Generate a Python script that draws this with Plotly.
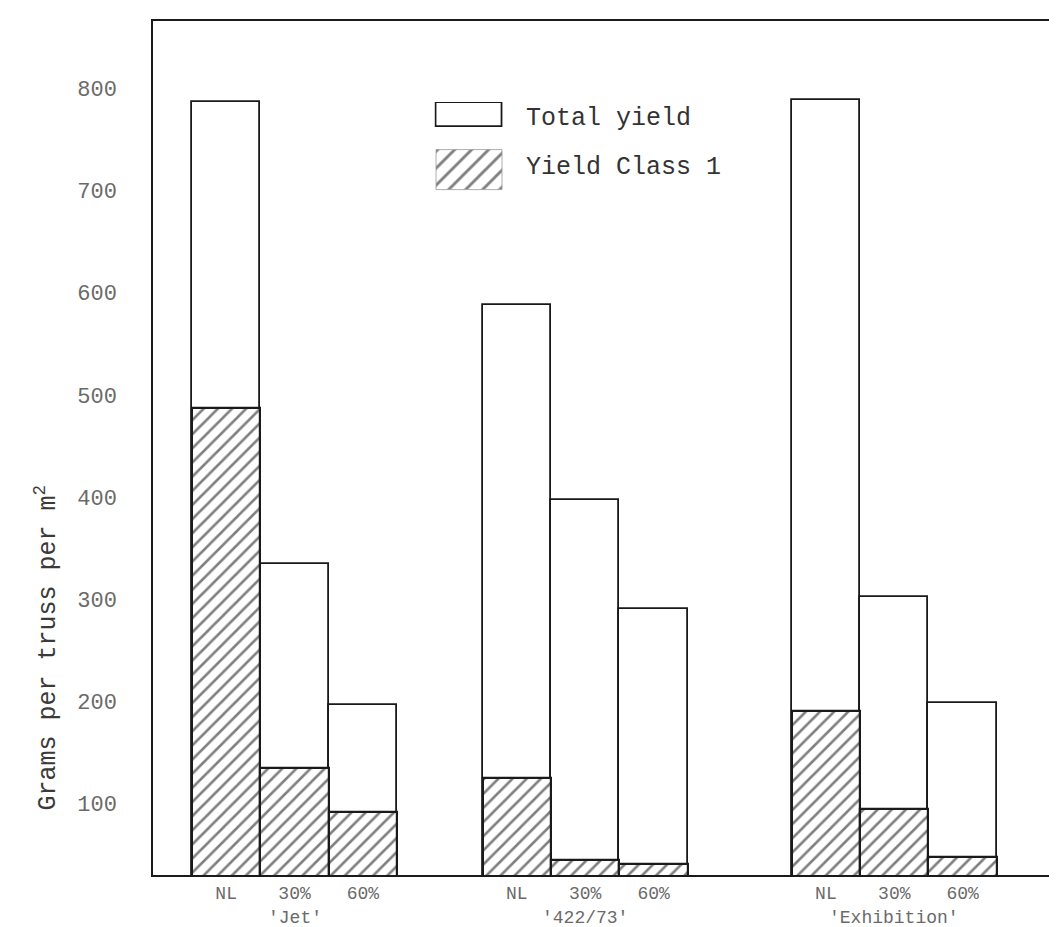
import plotly.graph_objects as go

# ---- data ----
cultivars = ["'Jet'", "'422/73'", "'Exhibition'"]
treatments = ["NL", "30%", "60%"]
total_yield = {
    "'Jet'": [787, 334, 196],
    "'422/73'": [588, 397, 290],
    "'Exhibition'": [789, 302, 198],
}
class1_yield = {
    "'Jet'": [487, 135, 92],
    "'422/73'": [125, 45, 41],
    "'Exhibition'": [191, 95, 48],
}
y_ticks = [100, 200, 300, 400, 500, 600, 700, 800]

# ---- layout helpers (group spacing on the category axis) ----
group_starts = [0, 4.25, 8.77]

FONT = "Liberation Mono, Courier New, monospace"
LINE = "#1a1a1a"
TXT = "#6a6a6a"

xs, tot, c1, ticktext = [], [], [], []
for g, cv in enumerate(cultivars):
    for i, tr in enumerate(treatments):
        xs.append(group_starts[g] + i)
        tot.append(total_yield[cv][i])
        c1.append(class1_yield[cv][i])
        ticktext.append(tr)

HATCH = dict(shape="/", size=10, solidity=0.26, fgcolor="#000000", bgcolor="white")

fig = go.Figure()
fig.add_trace(go.Bar(
    x=xs, y=tot, width=1.0, name="Total yield",
    marker=dict(color="white", line=dict(color=LINE, width=1.8)),
    showlegend=False,
))
fig.add_trace(go.Bar(
    x=xs, y=c1, width=1.0, name="Yield Class 1",
    marker=dict(color="white", line=dict(color=LINE, width=2.2), pattern=HATCH),
    showlegend=False,
))

# legend swatches on an inset axis
fig.add_trace(go.Bar(
    x=[0.5], y=[24], base=[63], width=1.0, xaxis="x2", yaxis="y2",
    marker=dict(color="white", line=dict(color=LINE, width=1.8)),
    showlegend=False, hoverinfo="skip",
))
fig.add_trace(go.Bar(
    x=[0.5], y=[40], base=[0], width=1.0, xaxis="x2", yaxis="y2",
    marker=dict(color="white", line=dict(color="#999999", width=0.8),
                pattern=dict(shape="/", size=12, solidity=0.24,
                             fgcolor="#000000", bgcolor="white")),
    showlegend=False, hoverinfo="skip",
))

TOP, BOT = 13, 60
PLOT_BOTTOM = 927 - BOT
PLOT_H = 927 - TOP - BOT

annotations = []
for g, cv in enumerate(cultivars):
    annotations.append(dict(
        x=group_starts[g] + 1, y=-(922 - PLOT_BOTTOM) / PLOT_H, xref="x", yref="paper",
        text=cv, showarrow=False, xanchor="center", yanchor="bottom",
        font=dict(family=FONT, size=18, color=TXT)))

annotations.append(dict(
    x=-0.118, y=(PLOT_BOTTOM - 640) / PLOT_H, xref="paper", yref="paper",
    text="Grams per truss per m<sup>2</sup>", textangle=-90,
    showarrow=False, xanchor="center", yanchor="middle",
    font=dict(family=FONT, size=25, color="#3a3a3a")))

annotations.append(dict(
    x=0.4115, y=(PLOT_BOTTOM - 110) / PLOT_H, xref="paper", yref="paper", text="Total yield",
    showarrow=False, xanchor="left", yanchor="middle",
    font=dict(family=FONT, size=25, color="#333333")))
annotations.append(dict(
    x=0.4115, y=(PLOT_BOTTOM - 160) / PLOT_H, xref="paper", yref="paper", text="Yield Class 1",
    showarrow=False, xanchor="left", yanchor="middle",
    font=dict(family=FONT, size=25, color="#333333")))

fig.update_layout(
    width=1057, height=927,
    margin=dict(l=145, r=8, t=TOP, b=BOT),
    paper_bgcolor="white", plot_bgcolor="white",
    barmode="overlay", bargap=0,
    font=dict(family=FONT, color=TXT),
    xaxis=dict(
        range=[-1.07, 12.12], tickvals=xs, ticktext=ticktext,
        showgrid=False, zeroline=False,
        showline=True, linecolor=LINE, linewidth=1.5, mirror=True,
        ticks="outside", ticklen=1, tickcolor="rgba(0,0,0,0)",
        tickfont=dict(family=FONT, size=18, color=TXT),
    ),
    yaxis=dict(
        range=[30, 866], tickvals=y_ticks,
        showgrid=False, zeroline=False,
        showline=True, linecolor=LINE, linewidth=1.5, mirror=True,
        ticks="outside", ticklen=30, tickcolor="rgba(0,0,0,0)",
        tickfont=dict(family=FONT, size=22, color=TXT),
    ),
    xaxis2=dict(domain=[0.312, 0.390], range=[-0.03, 1.03], anchor="y2",
                visible=False, fixedrange=True),
    yaxis2=dict(domain=[(PLOT_BOTTOM - 183) / PLOT_H, (PLOT_BOTTOM - 94) / PLOT_H],
                range=[-1, 88], anchor="x2",
                visible=False, fixedrange=True),
    annotations=annotations,
)

fig.write_html("out.html")
